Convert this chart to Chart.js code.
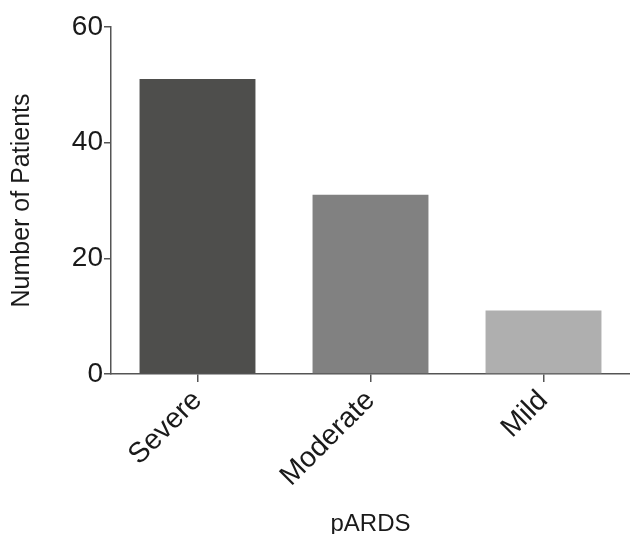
<!DOCTYPE html>
<html>
<head>
<meta charset="utf-8">
<script src="https://cdn.jsdelivr.net/npm/chart.js@4"></script>
<style>
  body { margin: 0; background: #fff; }
</style>
</head>
<body>
<canvas id="chart" width="630" height="534"></canvas>
<script>
const categories = ['Severe', 'Moderate', 'Mild'];
const patients = [51, 31, 11];
const barColors = ['#4e4e4c', '#818181', '#afafaf'];
const yTicks = [0, 20, 40, 60];

const font = 'Liberation Sans, Arial, Helvetica, sans-serif';
const axisColor = '#555';

// keep the plot box where the original has it
function fixBox(size, key) {
  return function (scale) {
    scale[key] = size;
    scale.paddingTop = 0;
    scale.paddingBottom = 0;
    scale.paddingLeft = 0;
    scale.paddingRight = 0;
  };
}

Chart.defaults.color = '#1a1a1a';
Chart.defaults.font.family = font;

new Chart(document.getElementById('chart'), {
  type: 'bar',
  data: {
    labels: categories,
    datasets: [{
      data: patients,
      backgroundColor: barColors,
      borderWidth: 0,
      barPercentage: 0.67,
      categoryPercentage: 1
    }]
  },
  options: {
    responsive: false,
    animation: false,
    layout: { padding: { top: 27, right: 0, bottom: 0, left: 0 } },
    plugins: { legend: { display: false }, tooltip: { enabled: false } },
    scales: {
      x: {
        afterFit: fixBox(160, 'height'),
        border: { color: axisColor, width: 1.5 },
        grid: { offset: false, drawOnChartArea: false, color: axisColor, lineWidth: 1.5, tickLength: 8 },
        ticks: {
          font: { size: 28.5 },
          minRotation: 45,
          maxRotation: 45,
          padding: 2
        },
        title: {
          display: true,
          text: 'pARDS',
          font: { size: 24, lineHeight: 1 },
          padding: { top: 0, bottom: -2 }
        }
      },
      y: {
        min: 0,
        max: 60,
        afterFit: fixBox(111, 'width'),
        afterBuildTicks: (scale) => { scale.ticks = yTicks.map(v => ({ value: v })); },
        border: { color: axisColor, width: 1.5 },
        grid: { drawOnChartArea: false, color: axisColor, lineWidth: 1.5, tickLength: 7 },
        ticks: {
          font: { size: 28 },
          padding: 1
        },
        title: {
          display: true,
          text: 'Number of Patients',
          font: { size: 25, lineHeight: 1 },
          padding: { top: 10, bottom: 0 }
        }
      }
    }
  }
});
</script>
</body>
</html>
